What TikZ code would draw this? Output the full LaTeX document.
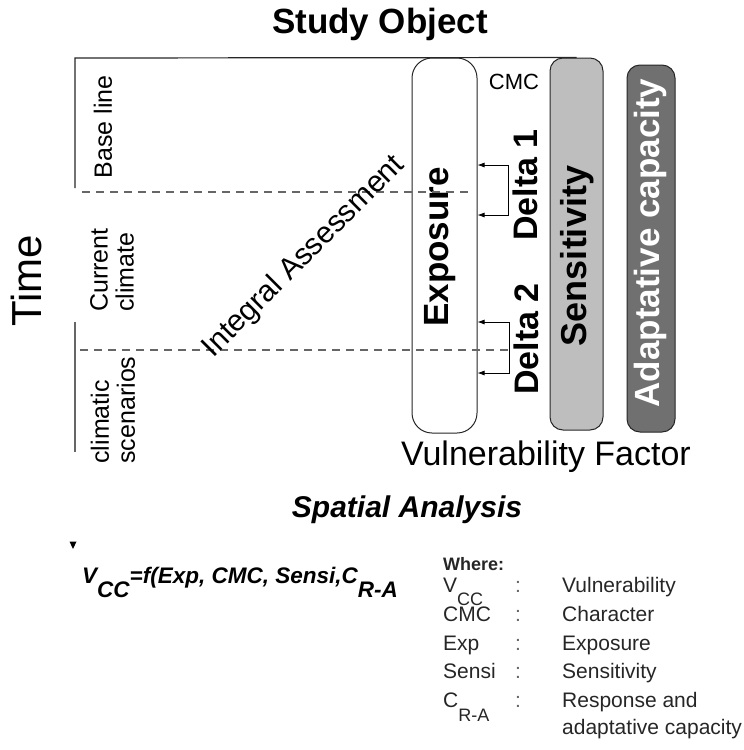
\documentclass[tikz,border=0pt]{standalone}
\usepackage{fontspec}
\setmainfont{Liberation Sans}
\usetikzlibrary{arrows.meta}
\definecolor{sensiGray}{RGB}{190,190,190}
\definecolor{adaptGray}{RGB}{112,112,112}
\tikzstyle{canvas} = [x=1pt, y=-1pt]
\tikzstyle{factorBar} = [draw=black!85, line width=1pt, inner sep=0pt, rounded corners=13pt]
\tikzstyle{factorText} = [font=\fsize{35}\bfseries, rotate=90, inner sep=0pt]
\tikzstyle{periodText} = [font=\fsize{25}, rotate=90, align=left, inner sep=0pt]
\tikzstyle{periodLine} = [color=black!60, line width=1.6pt, dash pattern=on 8pt off 6pt]
\tikzstyle{deltaLine} = [line width=0.8pt, {Latex[length=7pt,width=5pt]}-{Latex[length=7pt,width=5pt]}]
\tikzstyle{legendText} = [font=\fsize{21}, text=black!85, anchor=base west, inner sep=0pt]
\newcommand{\fsize}[1]{\fontsize{#1}{#1}\selectfont}
\newcommand{\lowsub}[2]{\raisebox{-#2}{#1}}

\begin{document}
\begin{tikzpicture}[canvas]
  \useasboundingbox (0,0) rectangle (744,750);
  % titles
  \node[font=\fsize{35}\bfseries, inner sep=0pt] (studyObject) at (380,24) {Study Object};
  \node[rotate=90, font=\fsize{42}, inner sep=0pt] (time) at (26,281) {Time};
  % frame of the time axis
  \draw[line width=1.2pt, black!60] (75,322) -- (75,452);
  % periods
  \node[periodText] (baseLine) at (103,127) {Base line};
  \node[periodText] (current) at (112,270) {Current\\[1pt]climate};
  \node[periodText] (scenarios) at (113,410) {climatic\\[1pt]scenarios};
  % vulnerability factors
  \node[factorBar, fill=white, rounded corners=20pt, minimum width=65pt, minimum height=375pt] (expo) at (444.5,245.5) {};
  \node[factorBar, fill=sensiGray, minimum width=53pt, minimum height=372pt] (sensi) at (576.5,244) {};
  \node[factorBar, fill=adaptGray, minimum width=48pt, minimum height=367pt] (adapt) at (651,248.5) {};
  \node[factorText] (expoText) at (440,247) {Exposure};
  \node[factorText, font=\fsize{36}\bfseries] (sensiText) at (577,256) {Sensitivity};
  \node[factorText, text=white] (adaptText) at (650,243) {Adaptative capacity};
  \node[font=\fsize{22}, inner sep=0pt] (cmc) at (514,82) {CMC};
  \draw[line width=1.2pt, black!85] (75,188) -- (75,58) -- (sensi.north);
  % period separators
  \draw[periodLine] (82,192) -- (470,192);
  \draw[periodLine] (80,350) -- (509,350);
  % deltas
  \coordinate (d1top) at (508,165);
  \coordinate (d1bot) at (508,215);
  \coordinate (d2top) at (509,322);
  \coordinate (d2bot) at (509,373);
  \draw[deltaLine] (d1top -| expo.east) -- (d1top) -- (d1bot) -- (d1bot -| expo.east);
  \draw[deltaLine] (d2top -| expo.east) -- (d2top) -- (d2bot) -- (d2bot -| expo.east);
  \node[factorText, font=\fsize{34}\bfseries] (delta1) at (525,185) {Delta 1};
  \node[factorText, font=\fsize{34}\bfseries] (delta2) at (526,339) {Delta 2};
  \node[rotate=45, font=\fsize{30}, inner sep=0pt] (integral) at (304,257) {Integral Assessment};
  \node[font=\fsize{34}, anchor=base, inner sep=0pt] (vulFactor) at (546,465) {Vulnerability Factor};
  % spatial analysis
  \node[font=\fsize{30}\bfseries\itshape, anchor=base, inner sep=0pt] (spatial) at (407,517) {Spatial Analysis};
  \fill (69.5,541.5) -- (76.5,541.5) -- (73,549) -- cycle;
  \node[font=\fsize{22.5}\bfseries\itshape, anchor=base west, inner sep=0pt] (formula) at (82,583)
    {V\lowsub{CC}{14pt}=f(Exp, CMC, Sensi,C\lowsub{R-A}{14pt}};
  % legend
  \node[legendText, font=\fsize{18}\bfseries] (where) at (443,570) {Where:};
  \foreach \sym/\name/\y in {V\lowsub{\fsize{18}CC}{13pt}/Vulnerability/592, CMC/Character/621,
      Exp/Exposure/650, Sensi/Sensitivity/678, C\lowsub{\fsize{18}R-A}{14pt}/Response and/707} {
    \node[legendText] at (443,\y) {\sym};
    \node[legendText, text=black!60] at (515,\y) {:};
    \node[legendText] at (562,\y) {\name};
  }
  \node[legendText] (adaptLine) at (562,734) {adaptative capacity};
\end{tikzpicture}
\end{document}
